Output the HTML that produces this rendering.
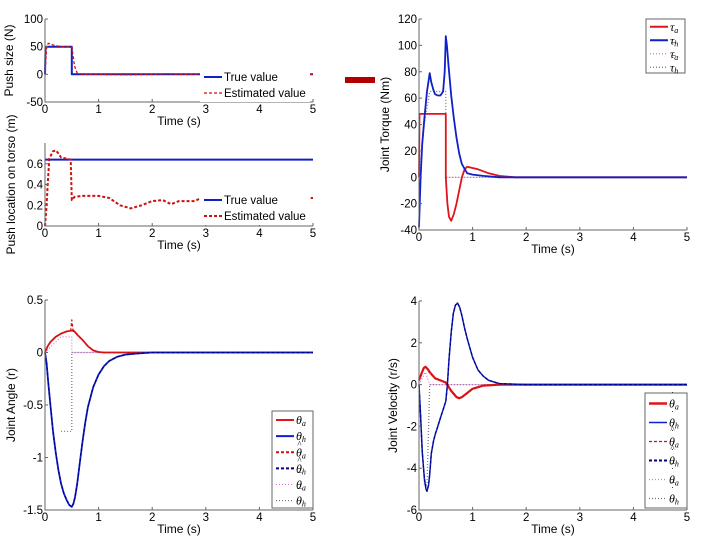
<!DOCTYPE html>
<html><head><meta charset="utf-8">
<style>
html,body{margin:0;padding:0;background:#fff;}
svg{display:block;font-family:"Liberation Sans",sans-serif;}
.tk{font-size:11.5px;fill:#000;}
.lb{font-size:12px;fill:#000;}
.lg{font-size:11.5px;fill:#000;}
.mt{font-family:"Liberation Serif",serif;font-style:italic;font-size:12px;}
.ac{font-family:"Liberation Serif",serif;font-size:9px;}
</style></head>
<body>
<svg id="fig" width="720" height="540" viewBox="0 0 720 540">
<rect x="345" y="77" width="30" height="6" fill="#b00000"/>
</svg>
<script>
// ---------- data ----------
const xTicks = [0,1,2,3,4,5];
// Panel 1: push size
const p1Ticks = [-50,0,50,100];
const p1TrueT = [0,0.01,0.5,0.5,5];
const p1TrueY = [0,50,50,0,0];
const p1EstT = [0,0.03,0.06,0.1,0.15,0.2,0.3,0.4,0.5,0.55,0.6,0.7,1.0,1.5,2.0,2.3,2.5,2.9,3.5,5];
const p1EstY = [0,48,56,55,53,52,50,50,50,15,2,0,0,-1,0,1,0,0,0,0];
// Panel 2: push location
const p2Ticks = [0,0.2,0.4,0.6];
const p2TrueT = [0,5];
const p2TrueY = [0.64,0.64];
const p2EstT = [0,0.03,0.05,0.08,0.15,0.2,0.25,0.3,0.4,0.48,0.5,0.55,0.7,1.0,1.2,1.4,1.6,1.8,2.0,2.2,2.35,2.5,2.8,2.9,5];
const p2EstY = [0,0.2,0.4,0.65,0.72,0.73,0.7,0.66,0.65,0.64,0.25,0.28,0.29,0.29,0.27,0.2,0.17,0.2,0.24,0.25,0.21,0.24,0.24,0.27,0.27];
// Panel 3: torque
const p3Ticks = [-40,-20,0,20,40,60,80,100,120];
const tauAT = [0,0.01,0.5,0.5,0.53,0.56,0.6,0.65,0.7,0.75,0.8,0.85,0.9,1.0,1.1,1.3,1.5,1.8,5];
const tauAY = [0,48,48,0,-20,-30,-33,-28,-20,-10,0,6,8,7,6,3,1,0,0];
const tauHT = [0,0.03,0.06,0.1,0.15,0.2,0.23,0.27,0.3,0.35,0.4,0.45,0.48,0.5,0.52,0.55,0.6,0.65,0.7,0.75,0.8,0.9,1.0,1.2,1.5,5];
const tauHY = [-38,0,25,45,65,79,72,66,63,62,62,65,80,107,100,85,62,45,30,18,10,3,2,1,0,0];
const tauBarAT = [0,0.5,0.5,5];
const tauBarAY = [48,48,0,0];
const tauBarHT = [0,0.1,0.2,0.5,0.5,5];
const tauBarHY = [0,40,65,65,0,0];
// Panel 4: joint angle
const p4Ticks = [-1.5,-1,-0.5,0,0.5];
const thAT = [0,0.05,0.1,0.2,0.3,0.4,0.5,0.55,0.6,0.7,0.8,0.9,1.0,1.1,5];
const thAY = [0,0.06,0.1,0.15,0.18,0.2,0.21,0.2,0.17,0.12,0.06,0.02,0.005,0,0];
const thHatAT = [0,0.05,0.1,0.2,0.3,0.4,0.48,0.5,0.52,0.55,0.6,0.7,0.8,0.9,1.0,1.1,5];
const thHatAY = [0,0.06,0.1,0.15,0.18,0.2,0.21,0.31,0.22,0.2,0.17,0.12,0.06,0.02,0.005,0,0];
const thHT = [0,0.03,0.06,0.1,0.15,0.2,0.25,0.3,0.35,0.4,0.45,0.5,0.53,0.56,0.6,0.65,0.7,0.75,0.8,0.9,1.0,1.1,1.2,1.35,1.5,1.7,2,5];
const thHY = [0,-0.1,-0.28,-0.5,-0.75,-0.95,-1.12,-1.25,-1.34,-1.4,-1.45,-1.47,-1.44,-1.38,-1.25,-1.05,-0.85,-0.67,-0.52,-0.33,-0.21,-0.13,-0.08,-0.04,-0.02,-0.01,0,0];
const thBarAT = [0,0.3,0.5,0.5,5];
const thBarAY = [0,0.15,0.15,0,0];
const thBarHT = [0.3,0.5,0.5,5];
const thBarHY = [-0.75,-0.75,0,0];
// Panel 5: joint velocity
const p5Ticks = [-6,-4,-2,0,2,4];
const dAT = [0,0.05,0.09,0.12,0.16,0.2,0.3,0.4,0.5,0.6,0.7,0.75,0.8,0.9,1.0,1.2,1.5,5];
const dAY = [0.2,0.55,0.8,0.85,0.75,0.6,0.3,0.2,0.1,-0.3,-0.6,-0.65,-0.6,-0.4,-0.2,-0.05,0,0];
const dHT = [0,0.03,0.06,0.1,0.13,0.15,0.18,0.2,0.23,0.27,0.3,0.35,0.4,0.45,0.5,0.53,0.56,0.6,0.64,0.68,0.72,0.76,0.8,0.85,0.9,1.0,1.1,1.2,1.3,1.5,2,5];
const dHY = [0,-1.5,-3.2,-4.5,-5.0,-5.1,-4.8,-4.3,-3.3,-2.7,-2.4,-2.0,-1.6,-1.2,-0.8,0.0,1.2,2.5,3.4,3.8,3.9,3.7,3.3,2.7,2.2,1.3,0.7,0.4,0.2,0.05,0,0];
const dBarAT = [0,0.12,0.2,5];
const dBarAY = [0,0.6,0,0];
const dBarHT = [0,0.1,0.15,0.2,5];
const dBarHY = [0,-4.8,-4.8,0,0];

// ---------- drawing ----------
const NS = "http://www.w3.org/2000/svg";
const svg = document.getElementById('fig');
function mk(tag, attrs, parent){const e=document.createElementNS(NS,tag);for(const k in attrs)e.setAttribute(k,attrs[k]);(parent||svg).appendChild(e);return e;}

function panel(name, px0, px1, pyTop, pyBot, ymin, ymax, yTicks, yLabel, ylx, series){
  const g = mk('g',{});
  
  
  const sx = t => px0 + (t/5)*(px1-px0);
  const sy = v => pyBot - (v-ymin)/(ymax-ymin)*(pyBot-pyTop);
  series.forEach(s=>{
    const pts = s.t.map((t,i)=>sx(t).toFixed(1)+','+sy(s.y[i]).toFixed(1)).join(' ');
    const pl = mk('polyline',{points:pts,fill:'none',stroke:s.c,'stroke-width':s.w,'stroke-dasharray':s.d||'none','stroke-linejoin':'round'},g);
    
    
  });
  const ax = mk('path',{d:`M${px0},${pyTop}V${pyBot}H${px1}`,stroke:'#666',fill:'none','stroke-width':1},g);
  
  
  xTicks.forEach(v=>{
    mk('line',{x1:sx(v),x2:sx(v),y1:pyBot,y2:pyBot-3,stroke:'#666'},g);
    const t = mk('text',{x:sx(v),y:pyBot+11,'text-anchor':'middle',class:'tk'},g);
    t.textContent = v;
    
    
  });
  yTicks.forEach(v=>{
    mk('line',{x1:px0,x2:px0+3,y1:sy(v),y2:sy(v),stroke:'#666'},g);
    const t = mk('text',{x:px0-2,y:sy(v)+4,'text-anchor':'end',class:'tk'},g);
    t.textContent = v;
    
    
  });
  const xl = mk('text',{x:(px0+px1)/2,y:pyBot+23,'text-anchor':'middle',class:'lb'},g);
  xl.textContent = 'Time (s)';
  
  
  const cy=(pyTop+pyBot)/2;
  const yl = mk('text',{x:ylx,y:cy,'text-anchor':'middle',class:'lb',transform:`rotate(-90 ${ylx} ${cy})`},g);
  yl.textContent = yLabel;
  
  
  return g;
}

function legend(name, x, y, w, h, rowH, entries, boxed){
  const g = mk('g',{});
  
  
  mk('rect',{x:x,y:y,width:w,height:h,fill:'#fff',stroke:boxed?'#666':'none'},g);
  entries.forEach((e,i)=>{
    const cy = y + rowH*(i+0.5) + 1;
    mk('line',{x1:x+4,x2:x+22,y1:cy,y2:cy,stroke:e.c,'stroke-width':e.w,'stroke-dasharray':e.d||'none'},g);
    const t = mk('text',{x:x+24,y:cy+4,class:e.math?'mt':'lg'},g);
    if(e.math){ t.innerHTML = e.label+'<tspan font-size="8" dy="2">'+e.sub+'</tspan>'; }
    else t.textContent = e.label;
    
    
    (e.acc||[]).forEach((a,k)=>{
      const at = mk('text',{x:x+27.5,y:cy-5-k*4,class:'ac','text-anchor':'middle'},g);
      at.textContent = a;
      
      
    });
  });
}

const R='#e0141a', B='#1020c8', RD='#d01010', BD='#000080', M='#e070e0', G='#707080';

panel('push-size-plot',45,313,19,102,-50,100,p1Ticks,'Push size (N)',13,[
  {n:'true-value-line',t:p1TrueT,y:p1TrueY,c:B,w:2},
  {n:'estimated-value-line',t:p1EstT,y:p1EstY,c:RD,w:1.3,d:'3,2'}]);
legend('push-size-legend',200,68,110,34,16,[
  {label:'True value',c:B,w:2},{label:'Estimated value',c:RD,w:1.3,d:'3,2'}],false);

panel('push-location-plot',45,313,143,226,0,0.8,p2Ticks,'Push location on torso (m)',15,[
  {n:'true-value-line',t:p2TrueT,y:p2TrueY,c:B,w:2},
  {n:'estimated-value-line',t:p2EstT,y:p2EstY,c:RD,w:2,d:'3,2'}]);
legend('push-location-legend',200,191,110,34,16,[
  {label:'True value',c:B,w:2},{label:'Estimated value',c:RD,w:2,d:'3,2'}],false);

panel('joint-torque-plot',419,687,19,230,-40,120,p3Ticks,'Joint Torque (Nm)',389,[
  {n:'tau-bar-h-line',t:tauBarHT,y:tauBarHY,c:G,w:1.2,d:'1,2'},
  {n:'tau-bar-a-line',t:tauBarAT,y:tauBarAY,c:M,w:1.2,d:'1,2'},
  {n:'tau-a-line',t:tauAT,y:tauAY,c:R,w:1.8},
  {n:'tau-h-line',t:tauHT,y:tauHY,c:B,w:1.8}]);
legend('joint-torque-legend',646,19,39,54,13.5,[
  {label:'τ',sub:'a',math:1,c:R,w:2},{label:'τ',sub:'h',math:1,c:B,w:2},
  {label:'τ',sub:'a',math:1,c:M,w:1.2,d:'1,2',acc:['¯']},{label:'τ',sub:'h',math:1,c:G,w:1.2,d:'1,2',acc:['¯']}],true);

panel('joint-angle-plot',45,313,300,510,-1.5,0.5,p4Ticks,'Joint Angle (r)',15,[
  {n:'theta-bar-h-line',t:thBarHT,y:thBarHY,c:G,w:1.2,d:'1,2'},
  {n:'theta-bar-a-line',t:thBarAT,y:thBarAY,c:M,w:1.2,d:'1,2'},
  {n:'theta-a-line',t:thAT,y:thAY,c:R,w:1.8},
  {n:'theta-hat-a-line',t:thHatAT,y:thHatAY,c:RD,w:1.2,d:'3,2'},
  {n:'theta-h-line',t:thHT,y:thHY,c:B,w:1.8},
  {n:'theta-hat-h-line',t:thHT,y:thHY,c:BD,w:1.2,d:'3,2'}]);
legend('joint-angle-legend',272,411,41,97,16.1,[
  {label:'θ',sub:'a',math:1,c:R,w:2},{label:'θ',sub:'h',math:1,c:B,w:2},
  {label:'θ',sub:'a',math:1,c:RD,w:2,d:'3,2',acc:['^']},{label:'θ',sub:'h',math:1,c:BD,w:2,d:'3,2',acc:['^']},
  {label:'θ',sub:'a',math:1,c:M,w:1.2,d:'1,2',acc:['¯']},{label:'θ',sub:'h',math:1,c:G,w:1.2,d:'1,2',acc:['¯']}],true);

panel('joint-velocity-plot',419,687,301,510,-6,4,p5Ticks,'Joint Velocity (r/s)',397,[
  {n:'dtheta-bar-h-line',t:dBarHT,y:dBarHY,c:G,w:1.2,d:'1,2'},
  {n:'dtheta-bar-a-line',t:dBarAT,y:dBarAY,c:M,w:1.2,d:'1,2'},
  {n:'dtheta-a-line',t:dAT,y:dAY,c:R,w:2.2},
  {n:'dtheta-hat-a-line',t:dAT,y:dAY,c:RD,w:1.2,d:'3,2'},
  {n:'dtheta-h-line',t:dHT,y:dHY,c:B,w:1.5},
  {n:'dtheta-hat-h-line',t:dHT,y:dHY,c:BD,w:1.2,d:'3,2'}]);
legend('joint-velocity-legend',645,393,42,115,19,[
  {label:'θ',sub:'a',math:1,c:R,w:2.5,acc:['˙']},{label:'θ',sub:'h',math:1,c:B,w:1.5,acc:['˙']},
  {label:'θ',sub:'a',math:1,c:RD,w:1.2,d:'3,2',acc:['˙','^']},{label:'θ',sub:'h',math:1,c:BD,w:2,d:'3,2',acc:['˙','^']},
  {label:'θ',sub:'a',math:1,c:M,w:1.2,d:'1,2',acc:['˙','¯']},{label:'θ',sub:'h',math:1,c:G,w:1.2,d:'1,2',acc:['˙','¯']}],true);
</script>
</body></html>
